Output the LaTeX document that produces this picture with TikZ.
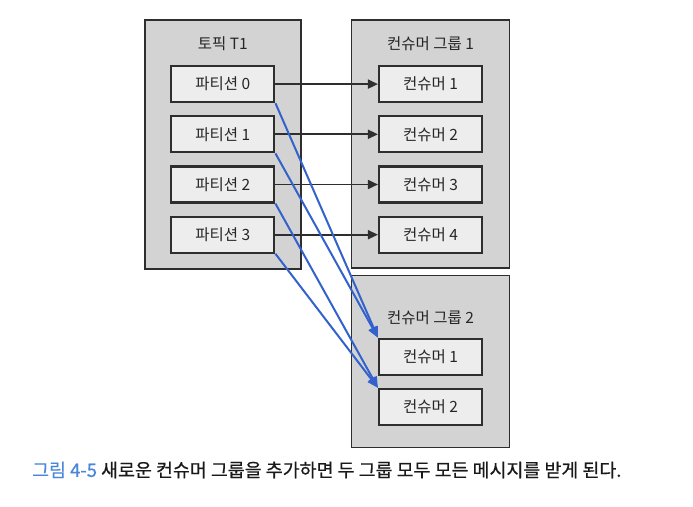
\documentclass[tikz,border=0pt]{standalone}
\usepackage{fontspec}
\setmainfont{Noto Sans CJK KR}
\newfontfamily\capfont[FakeBold=0.6]{Noto Sans CJK KR}
\usepackage{xcolor}
\usepackage{tikz}
\usetikzlibrary{arrows.meta, positioning, calc}
\definecolor{grpgray}{HTML}{D3D3D3}
\definecolor{boxgray}{HTML}{EDEDED}
\definecolor{linedark}{HTML}{2E2E2E}
\definecolor{lineblue}{HTML}{3462CC}
\definecolor{capblue}{HTML}{4A86DA}

\begin{document}
\begin{tikzpicture}[
    x=1pt, y=1pt,
    font=\fontsize{15.5}{18}\selectfont,
    group/.style={rectangle, draw=linedark, fill=grpgray, line width=1.7pt,
        anchor=north west, inner sep=0pt},
    part/.style={rectangle, draw=linedark, fill=boxgray, line width=2.2pt,
        minimum width=103pt, minimum height=36pt, inner sep=0pt, text=black!85},
    ttl/.style={inner sep=0pt, text=black!85},
    a/.style={-{Triangle[length=10pt, width=9pt]}, line width=1.7pt, linedark},
    ab/.style={-{Triangle[length=11pt, width=9pt]}, line width=2pt, lineblue}
]
\useasboundingbox (0,0) rectangle (693,-506);

% ===== TOPIC (left) =====
\node[group, minimum width=156pt, minimum height=249pt] (topic) at (144,-19) {};
\node[part, below=46pt of topic.north] (p0) {파티션 0};
\node[part, below=12pt of p0] (p1) {파티션 1};
\node[part, below=12pt of p1] (p2) {파티션 2};
\node[part, below=12pt of p2] (p3) {파티션 3};
\node[ttl, above=14pt of p0] (ttopic) {토픽 T1};

% ===== CONSUMER GROUP 1 (right, top) =====
\node[group, minimum width=158pt, minimum height=248pt,
      right=49pt of topic.north east, anchor=north west] (grp1) {};
\node[part, below=46pt of grp1.north] (c1) {컨슈머 1};
\node[part, below=12pt of c1] (c2) {컨슈머 2};
\node[part, below=12pt of c2] (c3) {컨슈머 3};
\node[part, below=12pt of c3] (c4) {컨슈머 4};
\node[ttl, above=14pt of c1] (tgrp1) {컨슈머 그룹 1};

% ===== CONSUMER GROUP 2 (right, bottom) =====
\node[group, minimum width=158pt, minimum height=172pt,
      below=6pt of grp1.south west, anchor=north west] (grp2) {};
\node[part, below=63pt of grp2.north] (gc1) {컨슈머 1};
\node[part, below=12pt of gc1] (gc2) {컨슈머 2};
\node[ttl, above=13pt of gc1] (tgrp2) {컨슈머 그룹 2};

% ===== ARROWS =====
\draw[a] (p0)--(c1); \draw[a] (p1)--(c2);
\draw[a] (p2)--(c3); \draw[a] (p3)--(c4);
\draw[ab] (p0.south east)--(gc1.north west);
\draw[ab] (p1.south east)--(gc1.north west);
\draw[ab] (p2.south east)--(gc2.north west);
\draw[ab] (p3.south east)--(gc2.north west);

% ===== CAPTION =====
\node[anchor=west, inner sep=0pt, text=black!90,
      font=\capfont\fontsize{18.4}{20}\selectfont] (cap) at (32,-470)
    {{\color{capblue}그림 4-5} 새로운 컨슈머 그룹을 추가하면 두 그룹 모두 모든 메시지를 받게 된다.};
\end{tikzpicture}
\end{document}
